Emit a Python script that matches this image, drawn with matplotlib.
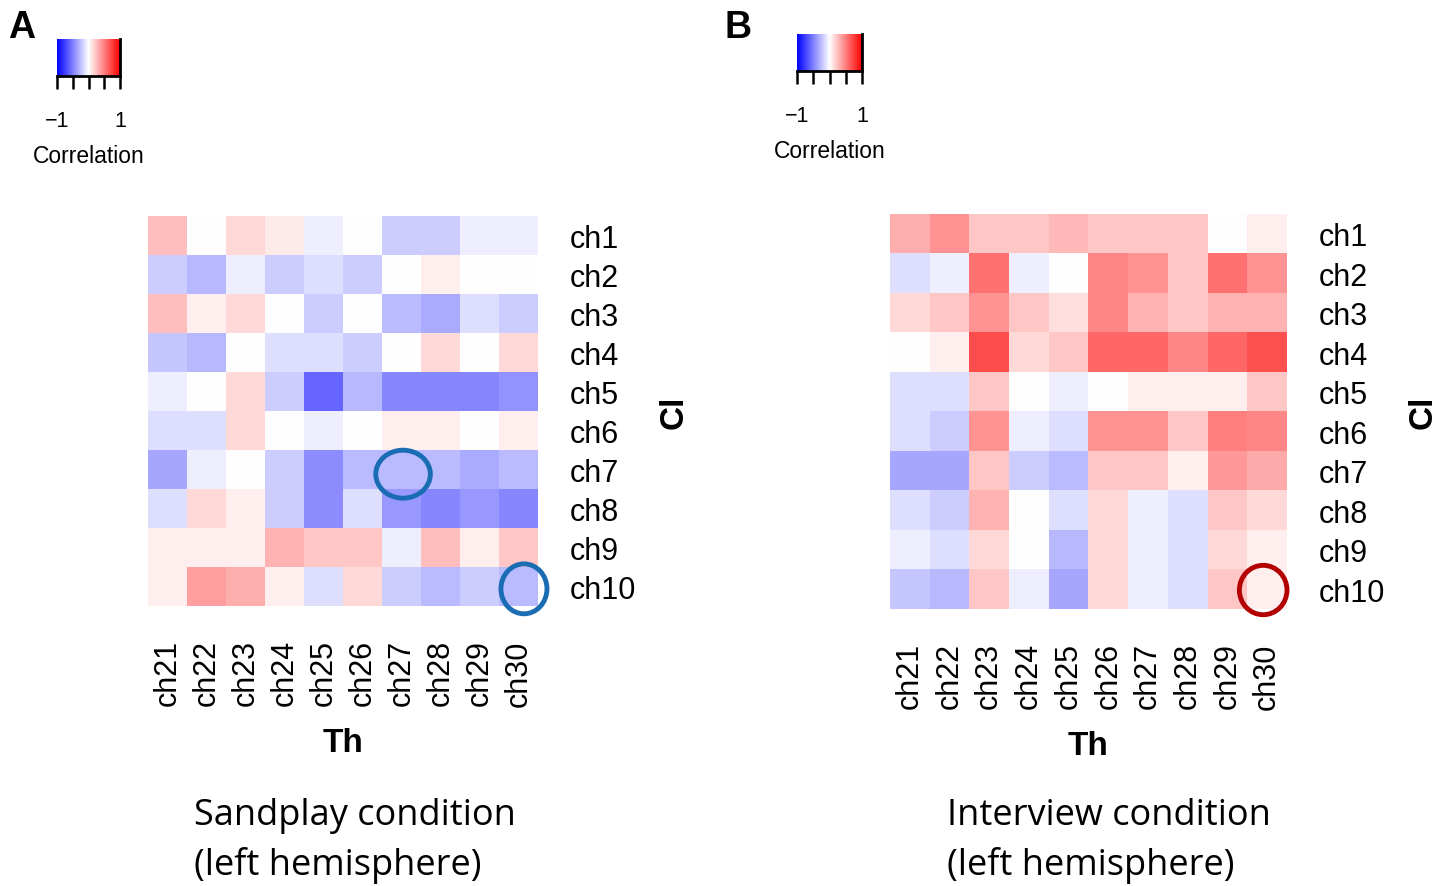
import numpy as np
import matplotlib
matplotlib.use("Agg")
import matplotlib.pyplot as plt
from matplotlib.colors import LinearSegmentedColormap
from matplotlib.patches import Ellipse

rows = ["ch1", "ch2", "ch3", "ch4", "ch5", "ch6", "ch7", "ch8", "ch9", "ch10"]
cols = ["ch21", "ch22", "ch23", "ch24", "ch25", "ch26", "ch27", "ch28", "ch29", "ch30"]

corr_sandplay = [
    [0.25, 0.00, 0.15, 0.08, -0.07, 0.00, -0.20, -0.20, -0.07, -0.07],
    [-0.20, -0.28, -0.07, -0.20, -0.13, -0.20, 0.00, 0.07, 0.00, 0.00],
    [0.25, 0.07, 0.15, 0.00, -0.20, 0.00, -0.27, -0.33, -0.13, -0.20],
    [-0.22, -0.28, 0.00, -0.13, -0.13, -0.20, 0.00, 0.15, 0.00, 0.15],
    [-0.07, 0.00, 0.15, -0.20, -0.60, -0.28, -0.47, -0.47, -0.47, -0.42],
    [-0.13, -0.13, 0.15, 0.00, -0.07, 0.00, 0.07, 0.07, 0.00, 0.07],
    [-0.35, -0.07, 0.00, -0.20, -0.45, -0.27, -0.27, -0.27, -0.33, -0.27],
    [-0.13, 0.15, 0.07, -0.20, -0.45, -0.13, -0.40, -0.47, -0.40, -0.47],
    [0.07, 0.07, 0.07, 0.30, 0.22, 0.22, -0.07, 0.25, 0.07, 0.22],
    [0.07, 0.38, 0.32, 0.07, -0.13, 0.15, -0.20, -0.27, -0.20, -0.27],
]

corr_interview = [
    [0.32, 0.42, 0.22, 0.22, 0.28, 0.22, 0.22, 0.22, 0.00, 0.07],
    [-0.13, -0.07, 0.55, -0.07, 0.00, 0.47, 0.42, 0.22, 0.55, 0.42],
    [0.15, 0.22, 0.42, 0.22, 0.13, 0.47, 0.30, 0.22, 0.30, 0.30],
    [0.00, 0.07, 0.70, 0.15, 0.22, 0.60, 0.60, 0.47, 0.60, 0.68],
    [-0.13, -0.13, 0.22, 0.00, -0.07, 0.00, 0.07, 0.07, 0.07, 0.22],
    [-0.13, -0.20, 0.42, -0.07, -0.13, 0.42, 0.42, 0.22, 0.50, 0.47],
    [-0.35, -0.35, 0.22, -0.20, -0.27, 0.22, 0.22, 0.07, 0.40, 0.33],
    [-0.13, -0.20, 0.30, 0.00, -0.13, 0.15, -0.07, -0.13, 0.22, 0.15],
    [-0.07, -0.13, 0.15, 0.00, -0.28, 0.15, -0.07, -0.13, 0.15, 0.07],
    [-0.22, -0.28, 0.22, -0.07, -0.35, 0.15, -0.07, -0.13, 0.22, 0.07],
]

W, H = 1437, 887
fig = plt.figure(figsize=(W / 100, H / 100), dpi=100)
cmap = LinearSegmentedColormap.from_list("bwr2", ["#0000ff", "#ffffff", "#ff0000"])

def px_axes(x0, y0, x1, y1):
    return fig.add_axes([x0 / W, 1 - y1 / H, (x1 - x0) / W, (y1 - y0) / H])

FONT = "Liberation Sans"

def heatmap(box, data, label_txt, letter, letter_xy, cbar_box, cap_xy, caption, circles):
    ax = px_axes(*box)
    ax.imshow(np.array(data), cmap=cmap, vmin=-1, vmax=1, aspect="auto", interpolation="nearest")
    for s in ax.spines.values():
        s.set_visible(False)
    ax.set_xticks(range(len(cols)))
    ax.set_xticklabels(cols, rotation=90, fontsize=22, family=FONT)
    ax.set_yticks(range(len(rows)))
    ax.set_yticklabels(rows, fontsize=22, family=FONT, ha="left")
    ax.yaxis.tick_right()
    ax.tick_params(axis="both", length=0)
    ax.tick_params(axis="y", pad=23)
    ax.tick_params(axis="x", pad=24)
    ax.set_xlabel("Th", fontsize=24, fontweight="bold", family=FONT, labelpad=15)
    ax.yaxis.set_label_position("right")
    ax.set_ylabel(label_txt, fontsize=24, fontweight="bold", family=FONT, rotation=90, labelpad=16)
    for (r, c, dx, dy, w, h, col) in circles:
        ax.add_patch(Ellipse((c + dx, r + dy), w, h, fill=False, edgecolor=col, lw=3.5, clip_on=False))
    # letter
    fig.text(letter_xy[0] / W, 1 - letter_xy[1] / H, letter, fontsize=27, fontweight="bold",
             family=FONT, ha="center", va="center")
    # colorbar
    cax = px_axes(*cbar_box)
    grad = np.linspace(-1, 1, 256)[None, :]
    cax.imshow(grad, cmap=cmap, vmin=-1, vmax=1, aspect="auto", extent=[-1, 1, 0, 1])
    for k, s in cax.spines.items():
        s.set_visible(k in ("bottom", "right"))
        s.set_linewidth(2)
    cax.set_yticks([])
    cax.set_xticks([-1, -0.5, 0, 0.5, 1])
    cax.set_xticklabels(["\u22121", "", "", "", "1"], fontsize=15.5, family=FONT)
    cax.tick_params(axis="x", length=9.5, width=1.8, pad=15)
    cax.set_xlabel("Correlation", fontsize=16.5, family=FONT, labelpad=9)
    # caption
    fig.text(cap_xy[0] / W, 1 - cap_xy[1] / H, caption, fontsize=26, family="Open Sans",
             ha="left", va="top", linespacing=1.45)
    return ax

heatmap((148, 217, 538, 607), corr_sandplay, "Cl", "A", (22, 28), (57, 40, 120, 77),
        (194, 798), "Sandplay condition\n(left hemisphere)",
        [(6, 6, 0.04, 0.12, 1.4, 1.23, "#1a6db3"), (9, 9, 0.14, 0.06, 1.18, 1.28, "#1a6db3")])
heatmap((890, 215, 1287, 610), corr_interview, "Cl", "B", (738, 28), (797, 35, 862, 72),
        (947, 798), "Interview condition\n(left hemisphere)",
        [(9, 9, -0.1, 0.02, 1.2, 1.25, "#b30000")])

fig.savefig("out.png", dpi=100)
